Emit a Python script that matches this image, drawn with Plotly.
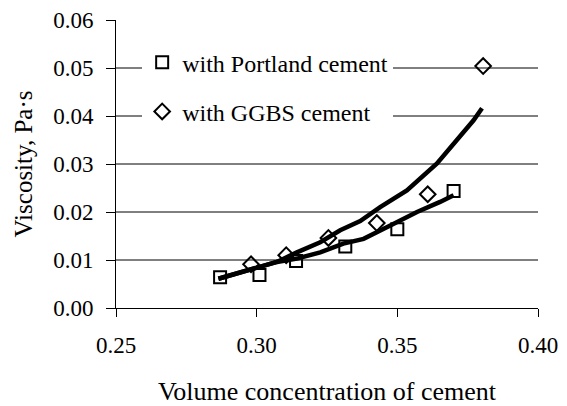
import plotly.graph_objects as go

# measured points
portland_x = [0.287, 0.301, 0.314, 0.3315, 0.350, 0.370]
portland_y = [0.0064, 0.0069, 0.0098, 0.0128, 0.0164, 0.0244]
ggbs_x = [0.298, 0.3105, 0.3255, 0.3427, 0.3608, 0.3805]
ggbs_y = [0.0091, 0.0110, 0.0146, 0.0177, 0.0237, 0.0504]

# fitted curves
portland_fit_x = [0.2864, 0.2953, 0.3012, 0.3072, 0.3143, 0.3226, 0.3308, 0.3380,
                  0.3475, 0.3570, 0.3652, 0.3700]
portland_fit_y = [0.0061, 0.0075, 0.0085, 0.0096, 0.0103, 0.0116, 0.0134, 0.0144,
                  0.0172, 0.0200, 0.0221, 0.0235]
ggbs_fit_x = [0.2864, 0.2953, 0.3012, 0.3072, 0.3143, 0.3226, 0.3297, 0.3368,
              0.3439, 0.3534, 0.3641, 0.3712, 0.3771, 0.3801]
ggbs_fit_y = [0.0061, 0.0075, 0.0085, 0.0096, 0.0116, 0.0137, 0.0162, 0.0181,
              0.0210, 0.0245, 0.0301, 0.0350, 0.0391, 0.0416]

x_ticks = [0.25, 0.30, 0.35, 0.40]
y_ticks = [0.00, 0.01, 0.02, 0.03, 0.04, 0.05, 0.06]

FONT = "Liberation Serif"
TICKFONT = dict(family=FONT, size=23, color="black")

fig = go.Figure()

fig.add_trace(go.Scatter(
    x=portland_x, y=portland_y, mode="markers", name="with Portland cement",
    legendgroup="p",
    marker=dict(symbol="square-open", size=12, color="black", line=dict(width=2)),
))
fig.add_trace(go.Scatter(
    x=ggbs_x, y=ggbs_y, mode="markers", name="with GGBS cement",
    legendgroup="g",
    marker=dict(symbol="diamond-open", size=12, color="black", line=dict(width=2)),
))
fig.add_trace(go.Scatter(
    x=portland_fit_x, y=portland_fit_y, mode="lines", showlegend=False,
    line=dict(color="black", width=4.5),
))
fig.add_trace(go.Scatter(
    x=ggbs_fit_x, y=ggbs_fit_y, mode="lines", showlegend=False,
    line=dict(color="black", width=4.5),
))

# gridlines between the bottom and top ticks
for v in y_ticks[1:-1]:
    fig.add_shape(type="line", xref="paper", x0=0, x1=1, yref="y", y0=v, y1=v,
                  line=dict(color="black", width=1), layer="below")

# page has an 8px body margin, so the figure is a bit smaller than the window
fig.update_layout(
    width=559, height=398,
    paper_bgcolor="white", plot_bgcolor="white",
    font=dict(family=FONT, size=23, color="black"),
    margin=dict(l=108, r=29, t=12, b=98),
    showlegend=True,
    legend=dict(
        x=0.062, y=0.93, xanchor="left", yanchor="top",
        bgcolor="white", font=dict(family=FONT, size=24, color="black"),
        tracegroupgap=15, itemsizing="trace",
    ),
    xaxis=dict(
        range=[0.25, 0.40], tickvals=x_ticks, tickformat=".2f",
        tickfont=TICKFONT,
        showgrid=False, zeroline=False, showline=True, linecolor="black",
        linewidth=1, ticks="outside", ticklen=8, tickcolor="black",
        ticklabelstandoff=8,
        title=dict(text="Volume concentration of cement", standoff=25,
                   font=dict(family=FONT, size=26, color="black")),
        automargin=False,
    ),
    yaxis=dict(
        range=[0, 0.06], tickvals=y_ticks, tickformat=".2f",
        tickfont=TICKFONT,
        showgrid=False, zeroline=False, showline=True, linecolor="black",
        linewidth=1, ticks="outside", ticklen=9, tickcolor="black",
        ticklabelstandoff=8,
        title=dict(text="Viscosity, Pa·s", standoff=13,
                   font=dict(family=FONT, size=25, color="black")),
        automargin=False,
    ),
)

fig.write_html("out.html")
